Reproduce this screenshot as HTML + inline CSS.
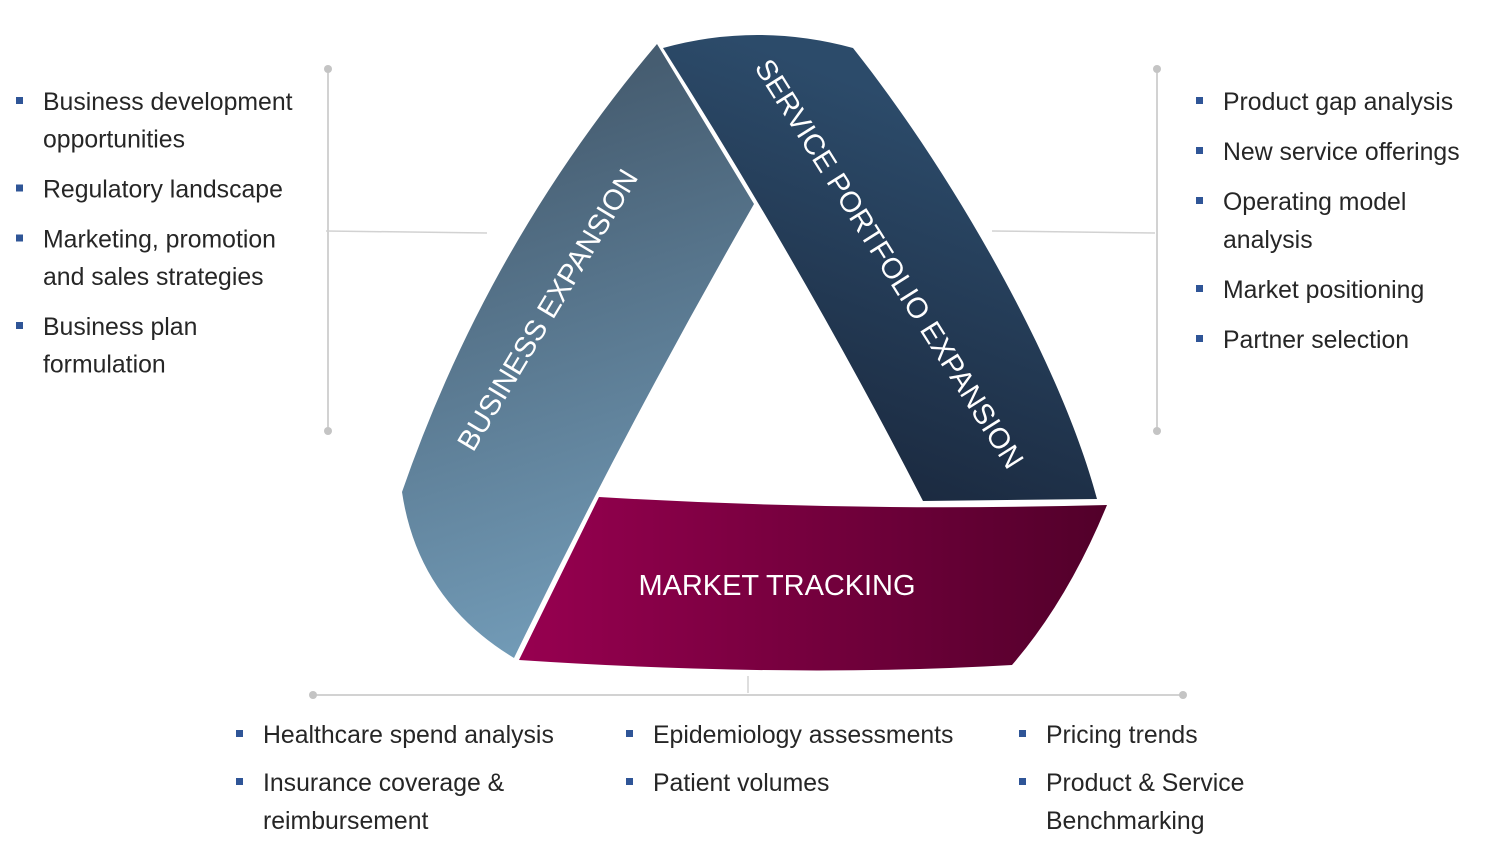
<!DOCTYPE html>
<html>
<head>
<meta charset="utf-8">
<style>
  html,body{margin:0;padding:0;background:#fff;}
  body{width:1507px;height:849px;overflow:hidden;}
  svg{display:block;}
  .t{font-family:"Liberation Sans",Arial,sans-serif;font-size:24.8px;fill:#262626;}
  .lbl{font-family:"Liberation Sans",Arial,sans-serif;font-size:29px;fill:#ffffff;}
</style>
</head>
<body>
<svg width="1507" height="849" viewBox="0 0 1507 849" xmlns="http://www.w3.org/2000/svg">
  <defs>
    <linearGradient id="gBiz" gradientUnits="userSpaceOnUse" x1="480" y1="120" x2="640" y2="620">
      <stop offset="0" stop-color="#465d71"/>
      <stop offset="1" stop-color="#729bb7"/>
    </linearGradient>
    <linearGradient id="gSvc" gradientUnits="userSpaceOnUse" x1="1010" y1="140" x2="880" y2="490">
      <stop offset="0" stop-color="#2c4b6a"/>
      <stop offset="1" stop-color="#1b2a40"/>
    </linearGradient>
    <linearGradient id="gMkt" gradientUnits="userSpaceOnUse" x1="520" y1="580" x2="1107" y2="580">
      <stop offset="0" stop-color="#970050"/>
      <stop offset="1" stop-color="#52002a"/>
    </linearGradient>
  </defs>

  <!-- connector lines -->
  <g stroke="#c4c4c4" stroke-width="1.5" fill="none">
    <line x1="328" y1="69" x2="328" y2="431"/>
    <line x1="1157" y1="69" x2="1157" y2="431"/>
    <line x1="313" y1="695" x2="1183" y2="695"/>
  </g>
  <g stroke="#d2d2d2" stroke-width="1.5" fill="none">
    <line x1="326" y1="231" x2="487" y2="233"/>
    <line x1="992" y1="231" x2="1155" y2="233"/>
    <line x1="748" y1="676" x2="748" y2="693"/>
  </g>
  <g fill="#c4c4c4">
    <circle cx="328" cy="69" r="4"/>
    <circle cx="328" cy="431" r="4"/>
    <circle cx="1157" cy="69" r="4"/>
    <circle cx="1157" cy="431" r="4"/>
    <circle cx="313" cy="695" r="4"/>
    <circle cx="1183" cy="695" r="4"/>
  </g>

  <!-- triangle segments -->
  <path d="M657,44 Q488,244 402,492 Q418,600 514,658 Q624,431 754,204 Z" fill="url(#gBiz)"/>
  <path d="M663,48 Q757,22 853,48 C950,170 1060,360 1097,499 L923,501 Q807,275 663,48 Z" fill="url(#gSvc)"/>
  <path d="M599,497 Q850,512 1107,505 Q1068,600 1012,665 Q790,678 519,660 Z" fill="url(#gMkt)"/>

  <!-- segment labels -->
  <text class="lbl" x="556" y="315" text-anchor="middle" transform="rotate(-59 556 315)">BUSINESS EXPANSION</text>
  <text class="lbl" x="881" y="269" text-anchor="middle" transform="rotate(57.8 881 269)">SERVICE PORTFOLIO EXPANSION</text>
  <text class="lbl" x="777" y="595" text-anchor="middle" textLength="277" lengthAdjust="spacing">MARKET TRACKING</text>

  <!-- bullets -->
  <g fill="#2f5597">
    <rect x="16" y="97" width="7" height="7"/>
    <rect x="16" y="184.5" width="7" height="7"/>
    <rect x="16" y="234.5" width="7" height="7"/>
    <rect x="16" y="322" width="7" height="7"/>

    <rect x="1196" y="97" width="7" height="7"/>
    <rect x="1196" y="147" width="7" height="7"/>
    <rect x="1196" y="197" width="7" height="7"/>
    <rect x="1196" y="285" width="7" height="7"/>
    <rect x="1196" y="335" width="7" height="7"/>

    <rect x="236" y="730" width="7" height="7"/>
    <rect x="236" y="778" width="7" height="7"/>
    <rect x="626" y="730" width="7" height="7"/>
    <rect x="626" y="778" width="7" height="7"/>
    <rect x="1019" y="730" width="7" height="7"/>
    <rect x="1019" y="778" width="7" height="7"/>
  </g>

  <!-- left list -->
  <text class="t" x="43" y="110">Business development</text>
  <text class="t" x="43" y="147.5">opportunities</text>
  <text class="t" x="43" y="197.5">Regulatory landscape</text>
  <text class="t" x="43" y="247.5">Marketing, promotion</text>
  <text class="t" x="43" y="285">and sales strategies</text>
  <text class="t" x="43" y="335">Business plan</text>
  <text class="t" x="43" y="372.5">formulation</text>

  <!-- right list -->
  <text class="t" x="1223" y="110">Product gap analysis</text>
  <text class="t" x="1223" y="160">New service offerings</text>
  <text class="t" x="1223" y="210">Operating model</text>
  <text class="t" x="1223" y="248">analysis</text>
  <text class="t" x="1223" y="298">Market positioning</text>
  <text class="t" x="1223" y="348">Partner selection</text>

  <!-- bottom lists -->
  <text class="t" x="263" y="743">Healthcare spend analysis</text>
  <text class="t" x="263" y="791">Insurance coverage &amp;</text>
  <text class="t" x="263" y="829">reimbursement</text>

  <text class="t" x="653" y="743">Epidemiology assessments</text>
  <text class="t" x="653" y="791">Patient volumes</text>

  <text class="t" x="1046" y="743">Pricing trends</text>
  <text class="t" x="1046" y="791">Product &amp; Service</text>
  <text class="t" x="1046" y="829">Benchmarking</text>
</svg>
</body>
</html>
